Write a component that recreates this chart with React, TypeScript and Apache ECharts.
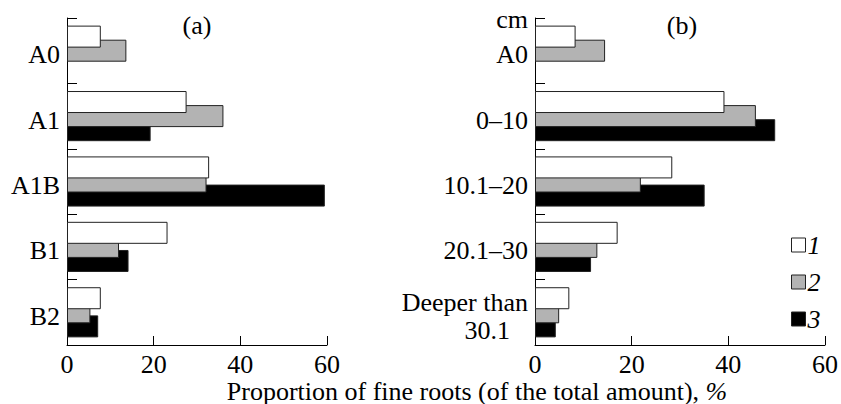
import React, { useEffect, useRef } from "react";
import * as echarts from "echarts";

const catsA = ["A0", "A1", "A1B", "B1", "B2"];
const catsB = ["A0", "0–10", "10.1–20", "20.1–30", "Deeper than 30.1"];
const seriesNames = ["1", "2", "3"];
const a1 = [7.8, 27.6, 32.8, 23.2, 7.8];
const a2 = [13.7, 36.1, 32.2, 12.0, 5.4];
const a3 = [null, 19.3, 59.5, 14.2, 7.2];
const b1 = [8.4, 39.2, 28.4, 17.1, 7.1];
const b2 = [14.5, 45.7, 21.9, 12.9, 5.0];
const b3 = [null, 49.7, 35.1, 11.6, 4.3];
const xTicks = [0, 20, 40, 60];

const FONT = "Liberation Serif";
const FS = 26;
const colors = ["#ffffff", "#b3b3b3", "#000000"];

export default function App() {
  const ref = useRef<HTMLDivElement>(null);
  useEffect(() => {
    if (!ref.current) return;
    const chart = echarts.init(ref.current, null, { renderer: "svg" });
    const xAxisBase = (gi: number) => ({
      type: "value" as const,
      gridIndex: gi,
      min: xTicks[0],
      max: xTicks[xTicks.length - 1],
      interval: xTicks[1] - xTicks[0],
      splitLine: { show: false },
      axisLine: { show: true, lineStyle: { color: "#000", width: 1 } },
      axisTick: { show: true, inside: true, length: 9, lineStyle: { color: "#000" } },
      axisLabel: { fontFamily: FONT, fontSize: FS, color: "#000", margin: 6 },
    });
    const yAxisBase = (gi: number, cats: string[]) => ({
      type: "category" as const,
      gridIndex: gi,
      data: cats,
      inverse: true,
      axisLine: { show: true, lineStyle: { color: "#000", width: 1 } },
      axisTick: { show: true, inside: true, length: 10, lineStyle: { color: "#000" } },
      axisLabel: {
        fontFamily: FONT,
        fontSize: FS,
        color: "#000",
        margin: 7,
        padding: [8, 0, 0, 0],
        formatter: (v: string) =>
          v === "Deeper than 30.1" ? "{a|Deeper than}\n{b|30.1}" : v,
        rich: {
          a: { fontFamily: FONT, fontSize: FS, color: "#000", lineHeight: 28 },
          b: { fontFamily: FONT, fontSize: FS, color: "#000", lineHeight: 28, padding: [0, 18, 0, 0] },
        },
      },
    });
    const mk = (name: string, idx: number, data: (number | null)[], gi: number) => ({
      type: "bar" as const,
      name,
      xAxisIndex: gi,
      yAxisIndex: gi,
      data,
      barWidth: 22,
      barGap: "-36%",
      z: 10 - idx,
      itemStyle: { color: colors[idx], borderColor: "#222", borderWidth: 1 },
    });
    chart.setOption({
      animation: false,
      backgroundColor: "#fff",
      grid: [
        { left: 67, top: 18, width: 260, height: 327 },
        { left: 535, top: 18, width: 292, height: 327 },
      ],
      xAxis: [xAxisBase(0), xAxisBase(1)],
      yAxis: [yAxisBase(0, catsA), yAxisBase(1, catsB)],
      legend: {
        orient: "vertical",
        left: 791,
        top: 232,
        padding: 0,
        itemWidth: 14,
        itemHeight: 14,
        itemGap: 11,
        icon: "rect",
        data: seriesNames,
        textStyle: { fontFamily: FONT, fontSize: FS, fontStyle: "italic", color: "#000", padding: [0, 0, 0, -3] },
        itemStyle: { borderColor: "#222", borderWidth: 1 },
      },
      series: [
        mk(seriesNames[0], 0, a1, 0),
        mk(seriesNames[1], 1, a2, 0),
        mk(seriesNames[2], 2, a3, 0),
        mk(seriesNames[0], 0, b1, 1),
        mk(seriesNames[1], 1, b2, 1),
        mk(seriesNames[2], 2, b3, 1),
      ],
      graphic: [
        {
          type: "text",
          x: 197,
          y: 25,
          style: { text: "(a)", fontFamily: FONT, fontSize: FS, fill: "#000", textAlign: "center", textVerticalAlign: "middle" },
        },
        {
          type: "text",
          x: 682,
          y: 25,
          style: { text: "(b)", fontFamily: FONT, fontSize: FS, fill: "#000", textAlign: "center", textVerticalAlign: "middle" },
        },
        {
          type: "text",
          x: 528,
          y: 19,
          style: { text: "cm", fontFamily: FONT, fontSize: FS, fill: "#000", textAlign: "right", textVerticalAlign: "middle" },
        },
        {
          type: "text",
          x: 477,
          y: 391,
          style: {
            text: "{n|Proportion of fine roots (of the total amount), }{i|%}",
            textAlign: "center",
            textVerticalAlign: "middle",
            rich: {
              n: { fontFamily: FONT, fontSize: FS, fill: "#000" },
              i: { fontFamily: FONT, fontSize: FS, fill: "#000", fontStyle: "italic" },
            },
          },
        },
      ],
    });
    return () => chart.dispose();
  }, []);
  return (
    <div
      ref={ref}
      style={{ position: "fixed", left: 0, top: 0, width: 841, height: 404, background: "#fff" }}
    />
  );
}
